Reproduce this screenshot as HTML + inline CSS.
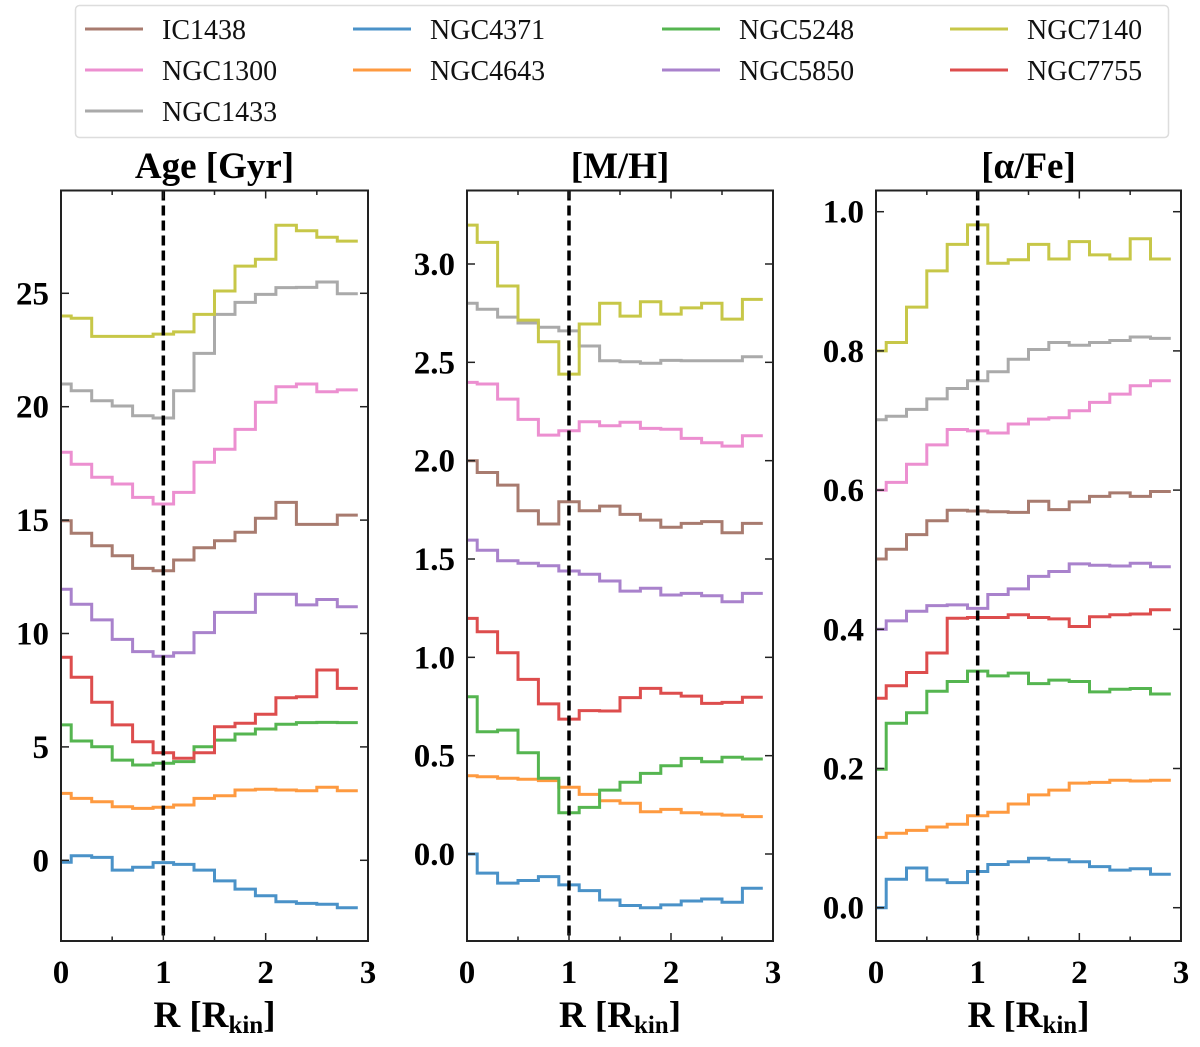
<!DOCTYPE html>
<html><head><meta charset="utf-8"><style>
body{margin:0;background:#fff;}
svg text{font-family:"Liberation Serif","DejaVu Serif",serif;}
</style></head><body>
<svg id="fig" width="1200" height="1042" viewBox="0 0 1200 1042" xmlns="http://www.w3.org/2000/svg">
<g id="legend"></g>
<g id="panels"></g>
</svg>
<script>
const galaxies=["IC1438","NGC1300","NGC1433","NGC4371","NGC4643","NGC5248","NGC5850","NGC7140","NGC7755"];
const legendCol=[0,0,0,1,1,2,2,3,3];
const legendRow=[0,1,2,0,1,0,1,0,1];
const colors={IC1438:"#a87b6f",NGC1300:"#ec8fd0",NGC1433:"#aaaaaa",NGC4371:"#4a92c8",NGC4643:"#fe9a40",NGC5248:"#55b550",NGC5850:"#a982cc",NGC7140:"#c7c748",NGC7755:"#dd4d4d"};
const radiusBins=[0,0.2,0.4,0.6,0.8,1.0,1.2,1.4,1.6,1.8,2.0,2.2,2.4,2.6,2.8];
const ageTicks=[0,5,10,15,20,25];
const mhTicks=["0.0","0.5","1.0","1.5","2.0","2.5","3.0"];
const afeTicks=["0.0","0.2","0.4","0.6","0.8","1.0"];
const xTicks=[0,1,2,3];
const age={
IC1438:[14.97,14.42,13.87,13.43,12.87,12.77,13.24,13.78,14.09,14.46,15.08,15.78,14.81,14.81,15.22],
NGC1300:[17.99,17.46,16.89,16.59,16.0,15.71,16.22,17.55,18.12,19.0,20.2,20.88,21.0,20.66,20.74],
NGC1433:[21.0,20.7,20.26,20.03,19.6,19.5,20.7,22.35,24.07,24.6,24.95,25.25,25.26,25.5,24.98],
NGC4371:[-0.09,0.2,0.13,-0.43,-0.31,-0.1,-0.18,-0.43,-0.91,-1.27,-1.56,-1.83,-1.9,-1.94,-2.09],
NGC4643:[2.95,2.73,2.58,2.36,2.29,2.34,2.44,2.73,2.85,3.1,3.13,3.1,3.07,3.22,3.07],
NGC5248:[5.97,5.26,5.01,4.42,4.2,4.28,4.35,5.01,5.3,5.57,5.79,6.0,6.07,6.08,6.07],
NGC5850:[11.95,11.29,10.6,9.74,9.2,9.0,9.15,10.04,10.93,10.93,11.73,11.73,11.26,11.5,11.18],
NGC7140:[24.0,23.9,23.1,23.1,23.1,23.2,23.3,24.07,25.1,26.2,26.5,28.0,27.76,27.47,27.3],
NGC7755:[8.95,8.07,6.97,5.97,5.23,4.74,4.5,4.74,5.89,6.04,6.44,7.17,7.21,8.39,7.58]};
const mh={
IC1438:[2.0,1.94,1.876,1.745,1.678,1.791,1.745,1.769,1.727,1.698,1.661,1.681,1.69,1.633,1.681],
NGC1300:[2.398,2.39,2.313,2.21,2.13,2.152,2.198,2.178,2.195,2.164,2.16,2.113,2.091,2.074,2.127],
NGC1433:[2.8,2.77,2.73,2.70,2.678,2.66,2.583,2.508,2.503,2.495,2.51,2.508,2.508,2.508,2.528],
NGC4371:[0.0,-0.097,-0.148,-0.135,-0.115,-0.157,-0.186,-0.234,-0.262,-0.273,-0.259,-0.239,-0.229,-0.245,-0.174],
NGC4643:[0.398,0.393,0.385,0.38,0.373,0.339,0.303,0.271,0.258,0.215,0.227,0.21,0.203,0.198,0.19],
NGC5248:[0.8,0.622,0.63,0.515,0.385,0.21,0.237,0.325,0.365,0.41,0.449,0.486,0.469,0.492,0.483],
NGC5850:[1.596,1.545,1.491,1.478,1.466,1.439,1.422,1.388,1.337,1.351,1.317,1.325,1.313,1.283,1.325],
NGC7140:[3.198,3.11,2.888,2.715,2.605,2.44,2.695,2.8,2.735,2.808,2.745,2.777,2.8,2.72,2.82],
NGC7755:[1.198,1.13,1.023,0.888,0.763,0.686,0.729,0.727,0.795,0.842,0.817,0.803,0.766,0.771,0.797]};
const afe={
IC1438:[0.501,0.515,0.536,0.556,0.571,0.57,0.569,0.568,0.584,0.572,0.583,0.591,0.596,0.591,0.598],
NGC1300:[0.6,0.611,0.637,0.665,0.687,0.685,0.682,0.695,0.702,0.704,0.714,0.726,0.738,0.75,0.757],
NGC1433:[0.701,0.706,0.716,0.731,0.746,0.757,0.77,0.788,0.802,0.812,0.808,0.812,0.815,0.82,0.818],
NGC4371:[0.0,0.041,0.057,0.04,0.036,0.052,0.062,0.066,0.071,0.069,0.066,0.059,0.054,0.056,0.048],
NGC4643:[0.101,0.107,0.111,0.116,0.12,0.132,0.137,0.149,0.162,0.169,0.179,0.18,0.183,0.182,0.183],
NGC5248:[0.199,0.265,0.28,0.311,0.325,0.34,0.333,0.337,0.322,0.327,0.325,0.31,0.314,0.315,0.307],
NGC5850:[0.4,0.412,0.426,0.434,0.435,0.43,0.45,0.458,0.476,0.483,0.494,0.492,0.491,0.495,0.49],
NGC7140:[0.8,0.812,0.863,0.915,0.953,0.981,0.926,0.931,0.953,0.932,0.957,0.938,0.932,0.961,0.932],
NGC7755:[0.301,0.319,0.338,0.366,0.416,0.417,0.417,0.421,0.417,0.415,0.404,0.418,0.421,0.422,0.428]};
const order=["NGC4371","NGC4643","NGC5248","NGC7755","NGC5850","IC1438","NGC1300","NGC1433","NGC7140"];
const NS="http://www.w3.org/2000/svg";
function mk(tag,attrs,parent){const e=document.createElementNS(NS,tag);for(const k in attrs)e.setAttribute(k,attrs[k]);parent.appendChild(e);return e;}
const lg=document.getElementById('legend');
const lgBox=mk('rect',{x:75.5,y:5.5,width:1093,height:132,rx:4,fill:'#fff',stroke:'#ddd','stroke-width':1.5},lg);


const colX=[85,353,662,950];
galaxies.forEach((g,i)=>{
  const c=legendCol[i],r=legendRow[i];
  const gg=mk('g',{},lg);
  
  
  const y=29+r*41;
  mk('line',{x1:colX[c],x2:colX[c]+58,y1:y,y2:y,stroke:colors[g],'stroke-width':3},gg);
  const t=mk('text',{x:colX[c]+77,y:y+10,'font-size':28,fill:'#111'},gg);t.textContent=g;
});
const panels=[
 {name:'age',title:'Age [Gyr]',data:age,x0:61,x3:368,vA:0,pA:860.3,vB:25,pB:293.3,ticks:ageTicks},
 {name:'metallicity',title:'[M/H]',data:mh,x0:467,x3:773,vA:0,pA:854,vB:3,pB:264,ticks:mhTicks},
 {name:'alpha-fe',title:'[\u03B1/Fe]',data:afe,x0:876,x3:1181,vA:0,pA:907.7,vB:1,pB:211.7,ticks:afeTicks}];
const axTop=190.5,axBot=941;
const root=document.getElementById('panels');
panels.forEach(P=>{
  const g=mk('g',{},root);
  
  
  const X=v=>P.x0+v*(P.x3-P.x0)/3;
  const Y=v=>P.pA+(v-P.vA)*(P.pB-P.pA)/(P.vB-P.vA);
  const ti=mk('text',{x:(P.x0+P.x3)/2,y:178,'text-anchor':'middle','font-size':37,'font-weight':'bold',fill:'#000'},g);
  ti.textContent=P.title;
  
  
  order.forEach(gal=>{
    const vals=P.data[gal];
    let d='';
    vals.forEach((v,i)=>{
      const xs=i==0?0:radiusBins[i]-0.1;
      const xe=radiusBins[i]+0.1;
      d+=(i==0?'M':'L')+X(xs).toFixed(1)+','+Y(v).toFixed(1)+'L'+X(xe).toFixed(1)+','+Y(v).toFixed(1);
    });
    const p=mk('path',{d:d,fill:'none',stroke:colors[gal],'stroke-width':3,'stroke-linejoin':'miter'},g);
    
    
  });
  const dl=mk('line',{x1:X(1),x2:X(1),y1:axTop,y2:axBot,stroke:'#000','stroke-width':3.5,'stroke-dasharray':'10,5'},g);
  
  
  const fr=mk('rect',{x:P.x0,y:axTop,width:P.x3-P.x0,height:axBot-axTop,fill:'none',stroke:'#222','stroke-width':2},g);
  
  
  for(let k=0;k<=6;k++){
    const v=k*0.5;
    const L=(k%2==0)?8:4.5;
    mk('line',{x1:X(v),x2:X(v),y1:axBot,y2:axBot-L,stroke:'#222','stroke-width':1.5},g);
    mk('line',{x1:X(v),x2:X(v),y1:axTop,y2:axTop+L,stroke:'#222','stroke-width':1.5},g);
  }
  xTicks.forEach(v=>{
    const t=mk('text',{x:X(v),y:983,'text-anchor':'middle','font-size':33,'font-weight':'bold',fill:'#000'},g);
    t.textContent=String(v);
    
    
  });
  P.ticks.forEach(s=>{
    const v=parseFloat(s),y=Y(v);
    mk('line',{x1:P.x0,x2:P.x0+8,y1:y,y2:y,stroke:'#222','stroke-width':1.5},g);
    mk('line',{x1:P.x3,x2:P.x3-8,y1:y,y2:y,stroke:'#222','stroke-width':1.5},g);
    const t=mk('text',{x:P.x0-12,y:y+11,'text-anchor':'end','font-size':33,'font-weight':'bold',fill:'#000'},g);
    t.textContent=String(s);
    
    
  });
  const xl=mk('text',{x:(P.x0+P.x3)/2,y:1027,'text-anchor':'middle','font-size':37,'font-weight':'bold',fill:'#000'},g);
  
  
  xl.appendChild(document.createTextNode('R [R'));
  const sub=mk('tspan',{'font-size':25,dy:6},xl);sub.textContent='kin';
  const cl=mk('tspan',{dy:-6},xl);cl.textContent=']';
});
</script>
</body></html>
